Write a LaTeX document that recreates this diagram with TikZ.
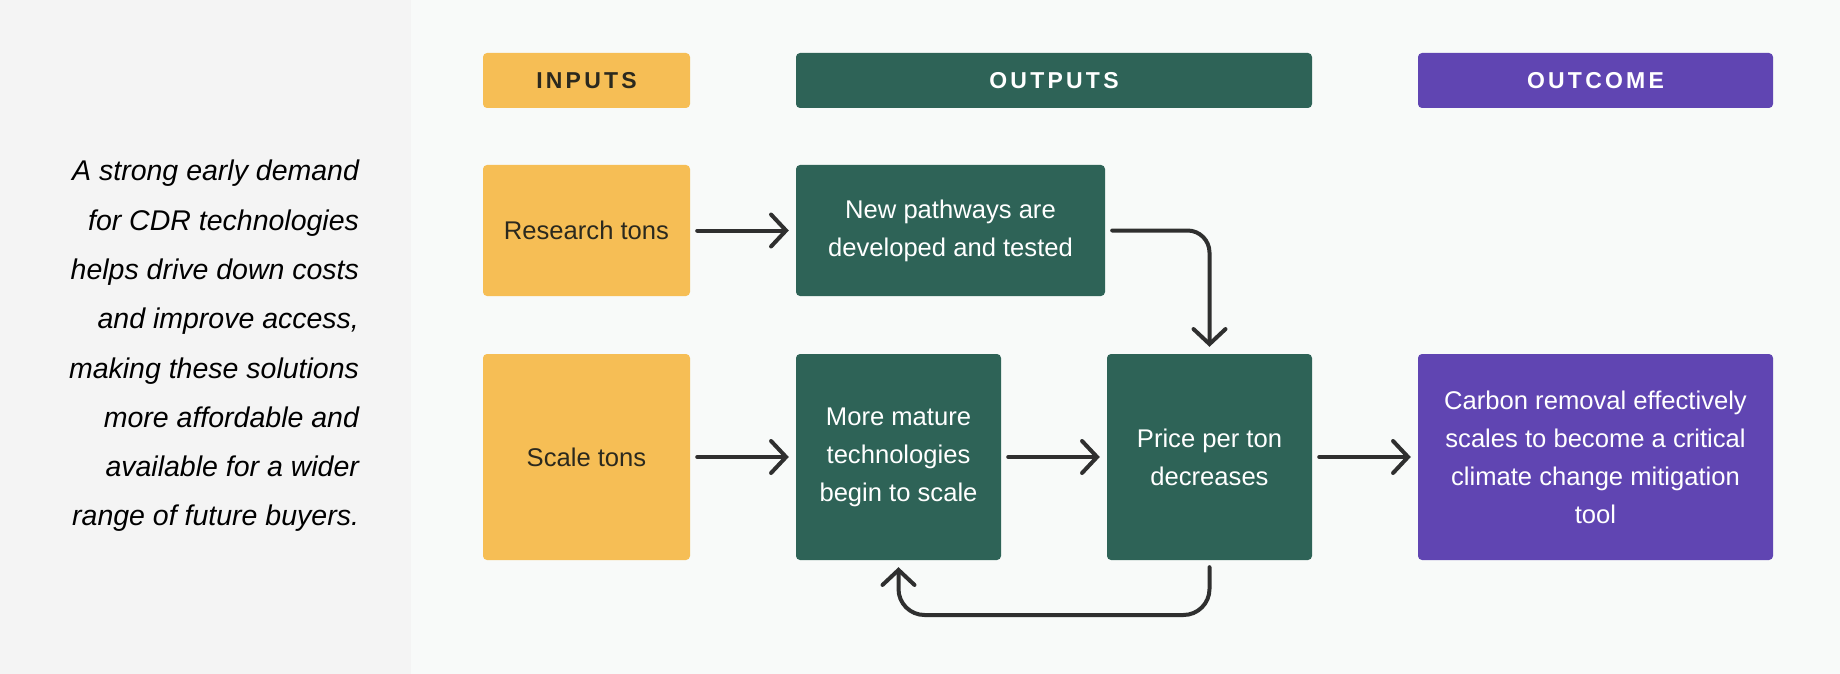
\documentclass[tikz,border=0pt]{standalone}
\usepackage{fontspec}
\setmainfont{Liberation Sans}
\usetikzlibrary{arrows.meta}
\definecolor{sand}{HTML}{F6BE55}
\definecolor{pine}{HTML}{2E6357}
\definecolor{violet}{HTML}{6045B2}
\definecolor{ink}{HTML}{2F2F2F}
\definecolor{dusk}{HTML}{2B291E}
\definecolor{sidebg}{HTML}{F4F4F4}
\definecolor{mainbg}{HTML}{F8FAF9}

\begin{document}
\begin{tikzpicture}[
  x=1pt, y=-1pt,
  font=\fontsize{25.6}{38}\selectfont,
  box/.style={rounded corners=4pt, align=center, inner sep=0pt},
  inbox/.style={box, fill=sand, text=dusk, minimum width=207pt},
  outbox/.style={box, fill=pine, text=white},
  endbox/.style={box, fill=violet, text=white, minimum width=355pt},
  head/.style={minimum height=55pt, font=\fontsize{23}{27}\selectfont\bfseries\addfontfeatures{LetterSpace=14}},
  arr/.style={-{Straight Barb[length=15pt, width=32pt, line cap=round]}, line width=4pt, ink, line cap=round},
  note/.style={anchor=east, align=right, font=\fontsize{28.5}{49.3}\selectfont\itshape}
]
\useasboundingbox (0,0) rectangle (1840,674);
\fill[mainbg] (0,0) rectangle (1840,674);
\fill[sidebg] (0,0) rectangle (411,674);

% side text
\node[note] (blurb) at (362.5,346) {A strong early demand\\for CDR technologies\\helps drive down costs\\and improve access,\\making these solutions\\more affordable and\\available for a wider\\range of future buyers.};

% column heads
\node[inbox, head]  (hin)  at (586.5,80.5) {INPUTS};
\node[outbox, head, minimum width=516pt] (hout) at (1054,80.5) {OUTPUTS};
\node[endbox, head] (hend) at (1595.5,80.5) {OUTCOME};

% row 1: research
\node[inbox, minimum height=131pt] (research) at (586.5,230.5) {Research tons};
\node[outbox, minimum width=309pt, minimum height=131pt] (newp) at (950.5,230.5) {New pathways are\\developed and tested};

% row 2: scale
\node[inbox, minimum height=206pt] (scale) at (586.5,457) {Scale tons};
\node[outbox, minimum width=205pt, minimum height=206pt] (mature) at (898.5,457) {More mature\\technologies\\begin to scale};
\node[outbox, minimum width=205pt, minimum height=206pt] (price) at (1209.5,457) {Price per ton\\decreases};
\node[endbox, minimum height=206pt] (carbon) at (1595.5,457) {Carbon removal effectively\\scales to become a critical\\climate change mitigation\\tool};
\coordinate (loopbot) at (1050,615);

\draw[arr] ([xshift=7pt]research.east) -- ([xshift=-7pt]newp.west);
\draw[arr] ([xshift=7pt]scale.east) -- ([xshift=-7pt]mature.west);
\draw[arr] ([xshift=7pt]mature.east) -- ([xshift=-7pt]price.west);
\draw[arr] ([xshift=7pt]price.east) -- ([xshift=-7pt]carbon.west);
\draw[arr, rounded corners=22pt] ([xshift=7pt]newp.east) -| ([yshift=7pt]price.north);
\draw[arr, rounded corners=26pt] ([yshift=-7pt]price.south) |- (loopbot) -| ([yshift=-7pt]mature.south);
\end{tikzpicture}
\end{document}
